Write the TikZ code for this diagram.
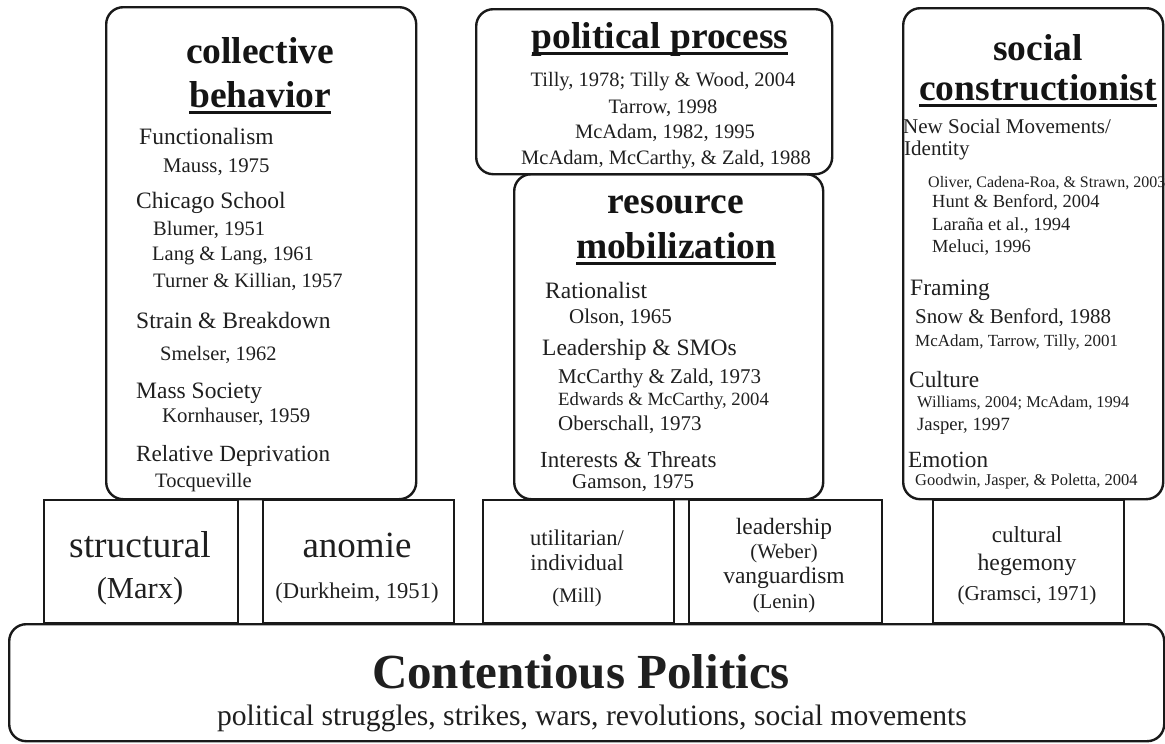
\documentclass[tikz,border=0pt]{standalone}
\usepackage{fontspec}
\setmainfont{Liberation Serif}
\newcommand\fs[1]{\fontsize{#1}{#1}\selectfont}
\newcommand\ulin[1]{\setbox0=\hbox{#1}\rlap{\rule[-7pt]{\wd0}{3pt}}\box0}
\begin{document}
\begin{tikzpicture}[x=1pt,y=-1pt,
  rbox/.style={draw=black!90, line width=2.4pt, rounded corners=17pt, anchor=north west, inner sep=0pt},
  sbox/.style={draw=black!90, line width=2pt, anchor=north west, inner sep=0pt},
  tl/.style={anchor=base west, inner sep=0pt, text=black!88},
  tc/.style={anchor=base, inner sep=0pt, text=black!88},
  ttl/.style={anchor=base, inner sep=0pt, font=\bfseries\fs{37.5}, text=black!92}]
\useasboundingbox (0,0) rectangle (1165,744);
% boxes
\node[rbox, minimum width=310pt, minimum height=492pt] (cb) at (105,6) {};
\node[rbox, minimum width=356pt, minimum height=165pt] (pp) at (475,8) {};
\node[rbox, minimum width=309pt, minimum height=325pt] (rm) at (513,173) {};
\node[rbox, minimum width=260pt, minimum height=491pt] (sc) at (902,7) {};
\node[sbox, minimum width=194pt, minimum height=123pt] (bst) at (43,499) {};
\node[sbox, minimum width=191pt, minimum height=123pt] (ban) at (262,499) {};
\node[sbox, minimum width=191pt, minimum height=123pt] (but) at (482,499) {};
\node[sbox, minimum width=193pt, minimum height=123pt] (ble) at (688,499) {};
\node[sbox, minimum width=191pt, minimum height=123pt] (bcu) at (932,499) {};
\node[rbox, minimum width=1155pt, minimum height=117pt] (cp) at (8,623) {};
% collective behavior
\node[ttl] (cbt1) at (260,63) {collective};
\node[ttl] (cbt2) at (260,107) {\ulin{behavior}};
\node[tl, font=\fs{23.5}] (cb1) at (139,144) {Functionalism};
\node[tl, font=\fs{20.8}] (cb2) at (163,172) {Mauss, 1975};
\node[tl, font=\fs{23.5}] (cb3) at (136,208) {Chicago School};
\node[tl, font=\fs{20.5}] (cb4) at (153,235) {Blumer, 1951};
\node[tl, font=\fs{20.5}] (cb5) at (152,260) {Lang \& Lang, 1961};
\node[tl, font=\fs{20.5}] (cb6) at (153,287) {Turner \& Killian, 1957};
\node[tl, font=\fs{23.5}] (cb7) at (136,328) {Strain \& Breakdown};
\node[tl, font=\fs{20.5}] (cb8) at (160,360) {Smelser, 1962};
\node[tl, font=\fs{23.5}] (cb9) at (136,398) {Mass Society};
\node[tl, font=\fs{20.8}] (cb10) at (162,422) {Kornhauser, 1959};
\node[tl, font=\fs{23.2}] (cb11) at (136,461) {Relative Deprivation};
\node[tl, font=\fs{20.5}] (cb12) at (155,487) {Tocqueville};
% political process
\node[ttl] (ppt) at (660,48) {\ulin{political process}};
\node[tc, font=\fs{20.5}] (pp1) at (663,86) {Tilly, 1978; Tilly \& Wood, 2004};
\node[tc, font=\fs{20.5}] (pp2) at (663,113) {Tarrow, 1998};
\node[tc, font=\fs{20.5}] (pp3) at (665,138) {McAdam, 1982, 1995};
\node[tc, font=\fs{20.5}] (pp4) at (666,164) {McAdam, McCarthy, \& Zald, 1988};
% resource mobilization
\node[ttl] (rmt1) at (676,213) {resource};
\node[ttl] (rmt2) at (676,258) {\ulin{mobilization}};
\node[tl, font=\fs{23.5}] (rm1) at (545,298) {Rationalist};
\node[tl, font=\fs{21}] (rm2) at (569,323) {Olson, 1965};
\node[tl, font=\fs{23.5}] (rm3) at (542,355) {Leadership \& SMOs};
\node[tl, font=\fs{21}] (rm4) at (558,383) {McCarthy \& Zald, 1973};
\node[tl, font=\fs{18.7}] (rm5) at (558,405) {Edwards \& McCarthy, 2004};
\node[tl, font=\fs{21}] (rm6) at (558,430) {Oberschall, 1973};
\node[tl, font=\fs{23}] (rm7) at (540,467) {Interests \& Threats};
\node[tl, font=\fs{20.9}] (rm8) at (572,488) {Gamson, 1975};
% social constructionist
\node[ttl] (sct1) at (1038,60) {social};
\node[ttl] (sct2) at (1038,100) {\ulin{constructionist}};
\node[tl, font=\fs{21}] (sc1) at (903,133) {New Social Movements/};
\node[tl, font=\fs{21}] (sc2) at (904,155) {Identity};
\node[tl, font=\fs{16}] (sc3) at (928,187) {Oliver, Cadena-Roa, \& Strawn, 2003};
\node[tl, font=\fs{18.5}] (sc4) at (932,207) {Hunt \& Benford, 2004};
\node[tl, font=\fs{18.5}] (sc5) at (932,230) {Laraña et al., 1994};
\node[tl, font=\fs{18.5}] (sc6) at (932,252) {Meluci, 1996};
\node[tl, font=\fs{23.5}] (sc7) at (910,295) {Framing};
\node[tl, font=\fs{21}] (sc8) at (915,323) {Snow \& Benford, 1988};
\node[tl, font=\fs{17}] (sc9) at (915,346) {McAdam, Tarrow, Tilly, 2001};
\node[tl, font=\fs{23.3}] (sc10) at (909,387) {Culture};
\node[tl, font=\fs{16.4}] (sc11) at (917,407) {Williams, 2004; McAdam, 1994};
\node[tl, font=\fs{18.7}] (sc12) at (917,430) {Jasper, 1997};
\node[tl, font=\fs{23.2}] (sc13) at (908,467) {Emotion};
\node[tl, font=\fs{16.5}] (sc14) at (915,485) {Goodwin, Jasper, \& Poletta, 2004};
% bottom row
\node[tc, font=\fs{37.5}] (st1) at (140,557) {structural};
\node[tc, font=\fs{30.5}] (st2) at (140,598) {(Marx)};
\node[tc, font=\fs{37}] (an1) at (357,557) {anomie};
\node[tc, font=\fs{22.6}] (an2) at (357,598) {(Durkheim, 1951)};
\node[tc, font=\fs{22.5}] (ut1) at (577,545) {utilitarian/};
\node[tc, font=\fs{23}] (ut2) at (577,570) {individual};
\node[tc, font=\fs{20.7}] (ut3) at (577,602) {(Mill)};
\node[tc, font=\fs{23.4}] (le1) at (784,534) {leadership};
\node[tc, font=\fs{20.7}] (le2) at (784,558) {(Weber)};
\node[tc, font=\fs{23.5}] (le3) at (784,583) {vanguardism};
\node[tc, font=\fs{20.8}] (le4) at (784,608) {(Lenin)};
\node[tc, font=\fs{23}] (cu1) at (1027,542) {cultural};
\node[tc, font=\fs{23.7}] (cu2) at (1027,570) {hegemony};
\node[tc, font=\fs{21.2}] (cu3) at (1027,600) {(Gramsci, 1971)};
% contentious politics
\node[tc, font=\bfseries\fs{49}] (cpt) at (581,688) {Contentious Politics};
\node[tc, font=\fs{29.6}] (cps) at (592,725) {political struggles, strikes, wars, revolutions, social movements};
\end{tikzpicture}
\end{document}
